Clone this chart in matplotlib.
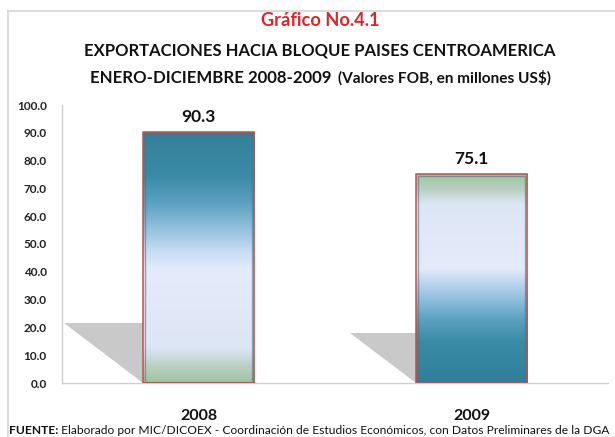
import matplotlib
matplotlib.use("Agg")
import matplotlib.pyplot as plt
import numpy as np
from matplotlib.colors import LinearSegmentedColormap
from matplotlib.patches import Polygon, Rectangle
from matplotlib.lines import Line2D

# ---- data ----
categories = ["2008", "2009"]
values = [90.3, 75.1]
value_labels = ["90.3", "75.1"]
y_ticks = [0, 10, 20, 30, 40, 50, 60, 70, 80, 90, 100]
y_tick_labels = ["0.0", "10.0", "20.0", "30.0", "40.0", "50.0", "60.0", "70.0", "80.0", "90.0", "100.0"]
title_1 = "Gráfico No.4.1"
title_2 = "EXPORTACIONES HACIA BLOQUE PAISES CENTROAMERICA"
title_3a = "ENERO-DICIEMBRE 2008-2009"
title_3b = "(Valores FOB, en millones US$)"
source_bold = "FUENTE:"
source_rest = " Elaborado por MIC/DICOEX - Coordinación de Estudios Económicos, con Datos Preliminares de la DGA"

# ---- style ----
FONT = ["Lato", "DejaVu Sans"]
plt.rcParams["font.family"] = FONT
W, H = 615, 437
fig = plt.figure(figsize=(W / 100, H / 100), dpi=100)
fig.patch.set_facecolor("white")

def px(x, y):
    return x / W, 1 - y / H

# frame
fig.add_artist(Line2D([px(8, 0)[0], 1.0], [px(0, 11)[1]] * 2, color="#d6d6d6", lw=1.2))
fig.add_artist(Line2D([px(8, 0)[0]] * 2, [px(0, 11)[1], 0.0], color="#d6d6d6", lw=1.2))

left, right, top, bottom = 62, 608, 105, 383
ax = fig.add_axes([left / W, 1 - bottom / H, (right - left) / W, (bottom - top) / H])
ax.set_xlim(-0.5, 1.5)
ax.set_ylim(0, 100)
for s in ["top", "right"]:
    ax.spines[s].set_visible(False)
for s in ["left", "bottom"]:
    ax.spines[s].set_color("#cfcfcf")
    ax.spines[s].set_linewidth(1.0)
ax.set_yticks(y_ticks)
ax.set_yticklabels(y_tick_labels, fontsize=8.5, fontweight="bold", color="#222222")
ax.set_xticks(range(len(categories)))
ax.set_xticklabels(categories, fontsize=11.5, fontweight="bold", color="#111111")
ax.tick_params(axis="y", length=0, pad=11)
ax.tick_params(axis="x", length=0, pad=19)

cm_2008 = LinearSegmentedColormap.from_list("c08", [
    (0.0, "#9fc49f"), (0.06, "#b9cfc2"), (0.14, "#dde6f5"), (0.45, "#e4ecfb"),
    (0.52, "#c8dcf4"), (0.62, "#8fbfdc"), (0.72, "#5aa0c0"), (0.82, "#3a8ba6"),
    (1.0, "#357f99")])
cm_2009 = LinearSegmentedColormap.from_list("c09", [
    (0.0, "#2f7f9a"), (0.2, "#3a8ca6"), (0.3, "#5aa0c0"), (0.4, "#8fbfdc"),
    (0.5, "#c8dcf4"), (0.55, "#e4ecfb"), (0.86, "#dde6f5"), (0.93, "#b8cfc0"),
    (1.0, "#9fc49f")])
cmaps = [cm_2008, cm_2009]

bar_w = 0.407
grad = np.linspace(0, 1, 256).reshape(-1, 1)
for i, v in enumerate(values):
    x0 = i - bar_w / 2
    # shadow
    sh = Polygon([(x0 - 0.00322 * v, 0.24 * v), (x0, 0.24 * v), (x0, 0)],
                 closed=True, facecolor="#c9c9c9", edgecolor="none", zorder=1)
    ax.add_patch(sh)
    bar = ax.bar(i, v, width=bar_w, facecolor="none", edgecolor="#c0504d",
                 linewidth=1.1, zorder=4)[0]
    im = ax.imshow(grad, extent=[x0, x0 + bar_w, 0, v], origin="lower",
                   aspect="auto", cmap=cmaps[i], zorder=2)
    im.set_clip_path(bar)
    inner = Rectangle((x0 + 0.007, 0.5), bar_w - 0.014, v - 1.2, facecolor="none",
                      edgecolor="#56707e", linewidth=1.0, alpha=0.6, zorder=3)
    ax.add_patch(inner)
    ax.text(i, v + 2.5, value_labels[i], ha="center", va="bottom",
            fontsize=12.5, fontweight="bold", color="#111111", zorder=5)
ax.set_xlim(-0.5, 1.5)
ax.set_ylim(0, 100)

fig.canvas.draw()
renderer = fig.canvas.get_renderer()

def fit_width(t, target):
    w = t.get_window_extent(renderer).width
    t.set_fontsize(t.get_fontsize() * target / w)

t1 = fig.text(*px(320, 21), title_1, ha="center", va="center", fontsize=12,
              fontweight="bold", color="#d9262b")
fit_width(t1, 118)
t2 = fig.text(*px(320, 50), title_2, ha="center", va="center", fontsize=12,
              fontweight="bold", color="#111111")
fit_width(t2, 469)
t3a = fig.text(*px(90, 78), title_3a, ha="left", va="center", fontsize=12,
               fontweight="bold", color="#111111")
fit_width(t3a, 242)
t3b = fig.text(*px(338, 78), title_3b, ha="left", va="center", fontsize=10,
               fontweight="bold", color="#111111")
fit_width(t3b, 214)

s1 = fig.text(*px(9, 430), source_bold, ha="left", va="center", fontsize=8,
              fontweight="bold", color="#111111")
s2 = fig.text(*px(0, 430), source_rest, ha="left", va="center", fontsize=8,
              color="#111111")
fig.canvas.draw()
w1 = s1.get_window_extent(renderer).width
w2 = s2.get_window_extent(renderer).width
f = 603 / (w1 + w2)
s1.set_fontsize(s1.get_fontsize() * f)
s2.set_fontsize(s2.get_fontsize() * f)
fig.canvas.draw()
w1 = s1.get_window_extent(renderer).width
s2.set_position(px(9 + w1, 430))

fig.savefig("out.png", dpi=100, facecolor="white")
